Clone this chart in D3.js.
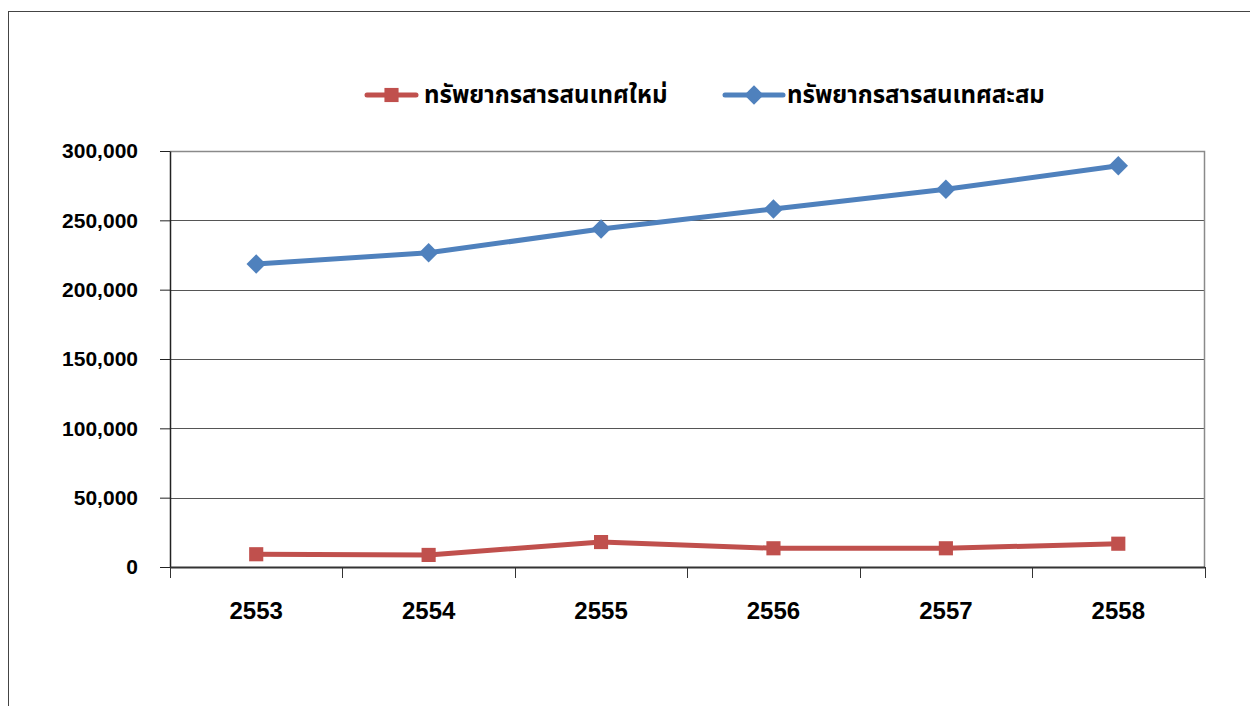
<!DOCTYPE html>
<html><head><meta charset="utf-8">
<script src="https://cdn.jsdelivr.net/npm/d3@7"></script>
<style>body{margin:0;background:#fff}svg{display:block}</style>
</head><body>
<svg id="c" width="1250" height="706"></svg>
<script>
const years = ["2553","2554","2555","2556","2557","2558"];
const newRes = [9200, 8700, 18000, 13500, 13500, 16800];
const cumRes = [218500, 226600, 243700, 258200, 272400, 289400];
const yTicks = [0, 50000, 100000, 150000, 200000, 250000, 300000];
const seriesNames = ["ทรัพยากรสารสนเทศใหม่", "ทรัพยากรสารสนเทศสะสม"];
const colors = ["#C0504D", "#4F81BD"];

const svg = d3.select("#c");
const L = 170, R = 1204.5, T = 151, B = 567;
// outer frame
svg.append("rect").attr("x",8.5).attr("y",11.5).attr("width",1300).attr("height",800)
  .attr("fill","none").attr("stroke","#444").attr("stroke-width",1);

const x = d3.scaleBand().domain(years).range([L, R]);
const y = d3.scaleLinear().domain([0, 300000]).range([B, T]);

// gridlines
svg.append("g").selectAll("line").data(yTicks.filter(d=>d>0 && d<300000)).join("line")
  .attr("x1",L).attr("x2",R).attr("y1",d=>Math.round(y(d))+0.5).attr("y2",d=>Math.round(y(d))+0.5)
  .attr("stroke","#555").attr("stroke-width",1);
// top & right border
svg.append("path").attr("d",`M${L},${T+0.5}H${R}V${B}`).attr("fill","none").attr("stroke","#8a8a8a").attr("stroke-width",1.5);

const fmt = d3.format(",");
const yAxis = svg.append("g").attr("transform",`translate(${L},0)`)
  .call(d3.axisLeft(y).tickValues(yTicks).tickFormat(fmt).tickSize(10).tickSizeOuter(0).tickPadding(4));
yAxis.select(".domain").attr("stroke","#222").attr("stroke-width",1.5);
yAxis.selectAll(".tick line").attr("stroke","#222");
yAxis.selectAll("text").attr("font-family","'Liberation Sans', Arial, sans-serif").attr("font-weight","bold")
  .attr("font-size","21px").attr("fill","#000").attr("dx","-18");

const xAxis = svg.append("g").attr("transform",`translate(0,${B})`)
  .call(d3.axisBottom(x).tickSize(0).tickSizeOuter(0).tickPadding(35));
xAxis.select(".domain").attr("stroke","#333").attr("stroke-width",2);
xAxis.selectAll("text").attr("font-family","'Liberation Sans', Arial, sans-serif").attr("font-weight","bold")
  .attr("font-size","24px").attr("fill","#000");
// x boundary ticks
const bounds = years.map(d=>x(d)).concat([R]);
svg.append("g").selectAll("line").data(bounds).join("line")
  .attr("x1",d=>Math.round(d)+0.5).attr("x2",d=>Math.round(d)+0.5).attr("y1",B).attr("y2",B+11)
  .attr("stroke","#333").attr("stroke-width",1);

const cx = d => x(d) + x.bandwidth()/2;
const line = d3.line().x(d=>cx(d[0])).y(d=>y(d[1]));
const data = [years.map((d,i)=>[d,newRes[i]]), years.map((d,i)=>[d,cumRes[i]])];

data.forEach((ser, si) => {
  svg.append("path").datum(ser).attr("d",line).attr("fill","none")
    .attr("stroke",colors[si]).attr("stroke-width",5).attr("stroke-linejoin","round");
});
const sq = d3.symbol().type(d3.symbolSquare).size(200);
const dm = d3.symbol().type(d3.symbolDiamond2).size(240);
svg.append("g").selectAll("path").data(data[0]).join("path")
  .attr("transform",d=>`translate(${cx(d[0])},${y(d[1])})`).attr("d",sq).attr("fill",colors[0]);
svg.append("g").selectAll("path").data(data[1]).join("path")
  .attr("transform",d=>`translate(${cx(d[0])},${y(d[1])})`).attr("d",dm).attr("fill",colors[1]);

// legend
const lg = [{x1:367,x2:416,tx:424},{x1:725,x2:783,tx:787}];
lg.forEach((l,i)=>{
  const g = svg.append("g");
  g.append("line").attr("x1",l.x1).attr("x2",l.x2).attr("y1",95).attr("y2",95)
    .attr("stroke",colors[i]).attr("stroke-width",5).attr("stroke-linecap","round");
  g.append("path").attr("transform",`translate(${(l.x1+l.x2)/2},95)`).attr("d", i===0?sq:dm).attr("fill",colors[i]);
  g.append("text").attr("x",l.tx).attr("y",103).text(seriesNames[i])
    .attr("font-family","'Noto Sans Thai','Noto Sans','DejaVu Sans',sans-serif").attr("font-weight","bold")
    .attr("font-size","24px").attr("fill","#000");
});
</script>
</body></html>
